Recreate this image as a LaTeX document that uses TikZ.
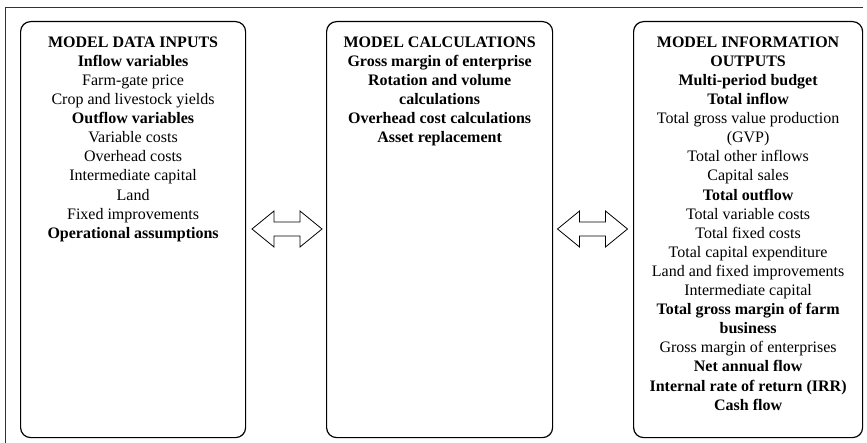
\documentclass[tikz,border=0pt]{standalone}
\usepackage{fontspec}
\setmainfont{Liberation Serif}
\begin{document}
\begin{tikzpicture}[x=1pt,y=-1pt,
  box/.style={draw=black, line width=1.2pt, rounded corners=10pt, anchor=north west, inner sep=0pt},
  txt/.style={anchor=north, inner sep=0pt, align=center, font=\fontsize{16}{19.1}\selectfont},
  arrowline/.style={draw=black, line width=0.8pt, line join=miter},
  frame/.style={draw=black!80, line width=1pt},
  dblarrow/.pic={\draw[arrowline] (-35,0) -- (-13,-18) -- (-13,-7) -- (13,-7) -- (13,-18) -- (35,0) -- (13,18) -- (13,7) -- (-13,7) -- (-13,18) -- cycle;}
]
\useasboundingbox (0,0) rectangle (867,443);
\fill[white] (0,0) rectangle (867,443);
% outer frame
\coordinate (fTR) at (863,8);
\coordinate (fTL) at (5,8);
\coordinate (fBL) at (5,450);
\draw[frame] (fTR) -- (fTL) -- (fBL);
% boxes
\node[box, minimum width=225pt, minimum height=416pt] (inputs) at (20,21) {};
\node[box, minimum width=226pt, minimum height=416pt] (calc) at (326,21) {};
\node[box, minimum width=229pt, minimum height=416pt] (outputs) at (633,21) {};
% texts
\node[txt] (inputsT) at ([yshift=-15.5pt]inputs.north) {\textbf{MODEL DATA INPUTS}\\
\textbf{Inflow variables}\\
Farm-gate price\\
Crop and livestock yields\\
\textbf{Outflow variables}\\
Variable costs\\
Overhead costs\\
Intermediate capital\\
Land\\
Fixed improvements\\
\textbf{Operational assumptions}};
\node[txt] (calcT) at ([yshift=-15.5pt]calc.north) {\textbf{MODEL CALCULATIONS}\\
\textbf{Gross margin of enterprise}\\
\textbf{Rotation and volume}\\
\textbf{calculations}\\
\textbf{Overhead cost calculations}\\
\textbf{Asset replacement}};
\node[txt] (outputsT) at ([yshift=-15.5pt]outputs.north) {\textbf{MODEL INFORMATION}\\
\textbf{OUTPUTS}\\
\textbf{Multi-period budget}\\
\textbf{Total inflow}\\
Total gross value production\\
(GVP)\\
Total other inflows\\
Capital sales\\
\textbf{Total outflow}\\
Total variable costs\\
Total fixed costs\\
Total capital expenditure\\
Land and fixed improvements\\
Intermediate capital\\
\textbf{Total gross margin of farm}\\
\textbf{business}\\
Gross margin of enterprises\\
\textbf{Net annual flow}\\
\textbf{Internal rate of return (IRR)}\\
\textbf{Cash flow}};
% double arrows
\coordinate (arrA) at (287,229);
\coordinate (arrB) at (592.5,229);
\pic at (arrA) {dblarrow};
\pic at (arrB) {dblarrow};
\end{tikzpicture}
\end{document}
